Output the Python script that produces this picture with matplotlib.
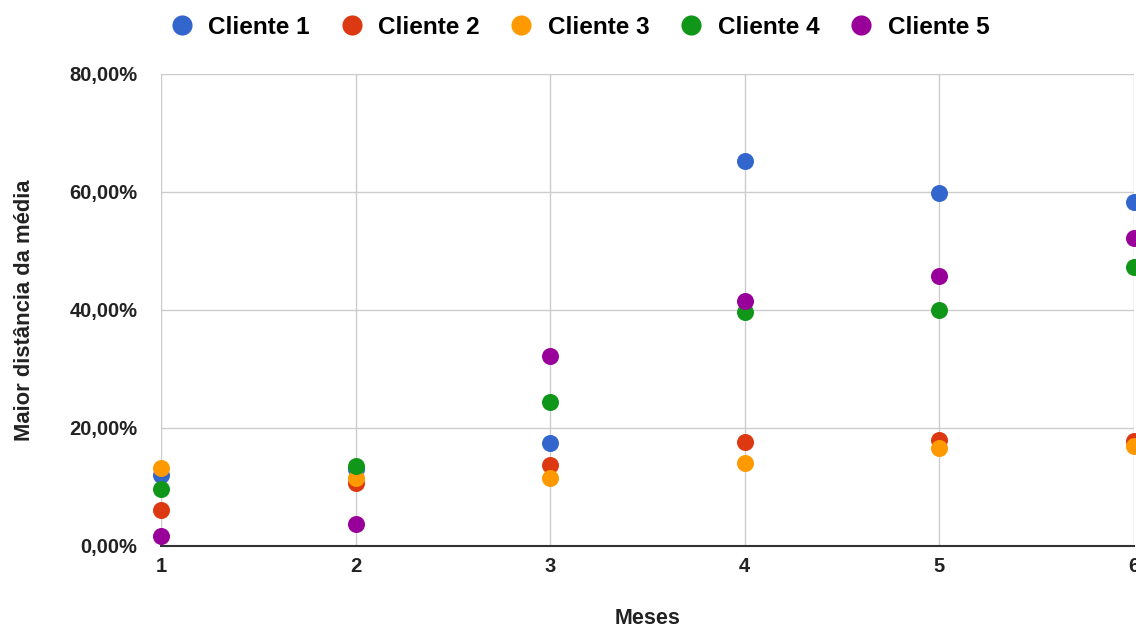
import matplotlib.pyplot as plt
from matplotlib.ticker import FuncFormatter
from matplotlib.lines import Line2D

plt.rcParams['font.family'] = ['Liberation Sans', 'DejaVu Sans']

meses = [1, 2, 3, 4, 5, 6]
clientes = ["Cliente 1", "Cliente 2", "Cliente 3", "Cliente 4", "Cliente 5"]
cores = ["#3366cc", "#dc3912", "#ff9900", "#109618", "#990099"]

# maior distância da média (%) por mês
cliente_1 = [12.0, 13.0, 17.5, 65.3, 59.8, 58.3]
cliente_2 = [6.1, 10.7, 13.7, 17.6, 18.0, 17.8]
cliente_3 = [13.2, 11.5, 11.5, 14.1, 16.6, 16.9]
cliente_4 = [9.7, 13.6, 24.4, 39.7, 40.0, 47.3]
cliente_5 = [1.7, 3.7, 32.2, 41.5, 45.8, 52.2]
series = [cliente_1, cliente_2, cliente_3, cliente_4, cliente_5]

fig = plt.figure(figsize=(11.36, 6.3), dpi=100)
ax = fig.add_axes([161 / 1136, 84 / 630, (1134 - 161) / 1136, (546 - 74) / 630])

for nome, cor, valores in zip(clientes, cores, series):
    ax.scatter(meses, valores, s=150, color=cor, zorder=3, clip_on=False,
               linewidths=0, label=nome)

ax.set_xlim(1, 6)
ax.set_ylim(0, 80)
ax.set_xticks(meses)
ax.set_yticks([0, 20, 40, 60, 80])
ax.yaxis.set_major_formatter(FuncFormatter(lambda v, p: f"{v:.2f}%".replace(".", ",")))
ax.grid(True, color="#cccccc", linewidth=1)
ax.set_axisbelow(True)
for s in ["top", "right", "left"]:
    ax.spines[s].set_visible(False)
ax.spines["bottom"].set_color("#333333")
ax.spines["bottom"].set_linewidth(1.5)
ax.spines["bottom"].set_zorder(2)
ax.tick_params(axis="both", length=0, labelsize=14.5, labelcolor="#222222")
ax.tick_params(axis="x", pad=8)
ax.tick_params(axis="y", pad=17)
for lbl in ax.get_xticklabels() + ax.get_yticklabels():
    lbl.set_fontweight("bold")

ax.set_xlabel("Meses", fontsize=15.5, fontweight="bold", color="#222222", labelpad=23)
ax.set_ylabel("Maior distância da média", fontsize=15.8, fontweight="bold",
              color="#222222", labelpad=25)

handles = [Line2D([], [], marker="o", linestyle="", markersize=14.5, color=c,
                  markeredgewidth=0) for c in cores]
fig.legend(handles, clientes, loc="center", bbox_to_anchor=(0.51, 0.957), ncol=5,
           frameon=False, prop={"size": 17.5, "weight": "bold"}, handletextpad=0.58,
           columnspacing=1.23, handlelength=1.0)

fig.savefig("out.png", dpi=100)
